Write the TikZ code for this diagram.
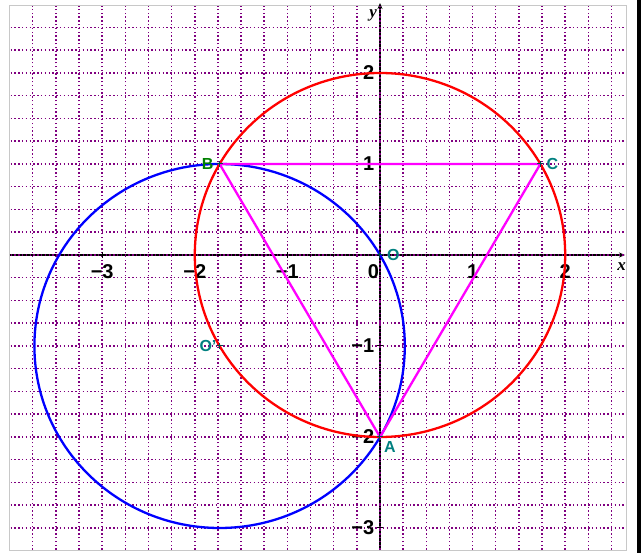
\documentclass[tikz,border=0pt]{standalone}
\usepackage{fontspec}
\setmainfont{Liberation Sans}
\newfontfamily\axisfont{Liberation Serif}
\usetikzlibrary{arrows.meta}
\definecolor{gridpurple}{RGB}{128,0,128}
\definecolor{labteal}{RGB}{0,128,128}
\definecolor{labgreen}{RGB}{0,128,0}
\definecolor{framegray}{RGB}{200,200,200}
\definecolor{trimag}{RGB}{255,0,255}
\definecolor{circr}{RGB}{255,0,0}
\definecolor{circb}{RGB}{0,0,255}
\tikzset{
  gridline/.style={gridpurple, line width=1.5pt, dash pattern=on 1.5pt off 2.3pt},
  axisline/.style={black, line width=1.1pt, -{Stealth[length=6pt,width=5pt]}},
  tickline/.style={black, line width=1pt},
  ticklab/.style={inner sep=0pt, font=\fontsize{20}{22}\selectfont\bfseries},
  circred/.style={circr, line width=2.3pt},
  circblue/.style={circb, line width=2.3pt},
  triline/.style={trimag, line width=2.3pt, line join=round},
  ptlab/.style={inner sep=0pt, font=\fontsize{16}{18}\selectfont\bfseries},
  ptmark/.style={labteal!60!black, line width=1pt},
}
\begin{document}
\begin{tikzpicture}[x=92.6pt,y=91pt]
\useasboundingbox (-4.1037,-3.2747) rectangle (2.8510,2.8022);
% frame
\coordinate (FL) at (-3.9957,-3.2418);
\coordinate (FR) at (2.6566,2.7470);
\draw[framegray, line width=1pt] (FL) rectangle (FR);
\fill[black] (2.7754,-3.2747) rectangle (2.8186,2.8022);
% axes
\coordinate (XL) at (-3.9957,0);
\coordinate (XR) at (2.646,0);
\coordinate (YB) at (0,-3.2418);
\coordinate (YT) at (0,2.769);
\draw[axisline] (XL) -- (XR);
\draw[axisline] (YB) -- (YT);
\node[inner sep=0pt, font=\fontsize{17}{18}\selectfont\axisfont\bfseries\itshape, anchor=north] (xlab) at (2.608,-0.08) {x};
\node[inner sep=0pt, font=\fontsize{17}{18}\selectfont\axisfont\bfseries\itshape, anchor=east] (ylab) at (-0.03,2.63) {y};
% grid
\begin{scope}
\clip (FL) rectangle (FR);
\draw[gridline, xstep=0.25, ystep=0.25] (-3.99,-3.24) grid (2.65,2.74);
\end{scope}
% ticks and labels
\foreach \k in {-3,-2,-1,1,2} {
  \draw[tickline] (\k,-0.035) -- (\k,0.035);
  \node[ticklab, anchor=north] (xt\k) at (\k,-0.1) {\ifnum\k<0 −\the\numexpr-\k\relax\else\k\fi};
}
\node[ticklab, anchor=north east] (xt0) at (-0.01,-0.1) {0};
\foreach \k in {-3,-2,-1,1,2} {
  \draw[tickline] (-0.035,\k) -- (0.035,\k);
  \node[ticklab, anchor=east] (yt\k) at (-0.06,\k) {\ifnum\k<0 −\the\numexpr-\k\relax\else\k\fi};
}
% points
\coordinate (O) at (0,0);
\coordinate (Op) at ({-sqrt(3)},-1);
\coordinate (A) at (0,-2);
\coordinate (B) at ({-sqrt(3)},1);
\coordinate (C) at ({sqrt(3)},1);
% circles
\draw[circblue] (Op) circle[radius=2];
\draw[circred] (O) circle[radius=2];
% triangle
\draw[triline] (A) -- (B) -- (C) -- cycle;
% markers
\foreach \p in {O,Op,A,B,C} {
  \draw[ptmark] ([xshift=-3pt]\p) -- ([xshift=3pt]\p) ([yshift=-3pt]\p) -- ([yshift=3pt]\p);
}
% labels
\node[ptlab, text=labgreen, anchor=east] (Blab) at ([xshift=-6pt]B) {B};
\node[ptlab, text=labteal, anchor=west] (Clab) at ([xshift=6pt]C) {C};
\node[ptlab, text=labteal, anchor=north west] (Alab) at ([xshift=4pt,yshift=-4pt]A) {A};
\node[ptlab, text=labteal, anchor=west] (Olab) at ([xshift=7pt]O) {O};
\node[ptlab, text=labteal, anchor=east] (Oplab) at ([xshift=-3pt]Op) {O'};
\end{tikzpicture}
\end{document}
